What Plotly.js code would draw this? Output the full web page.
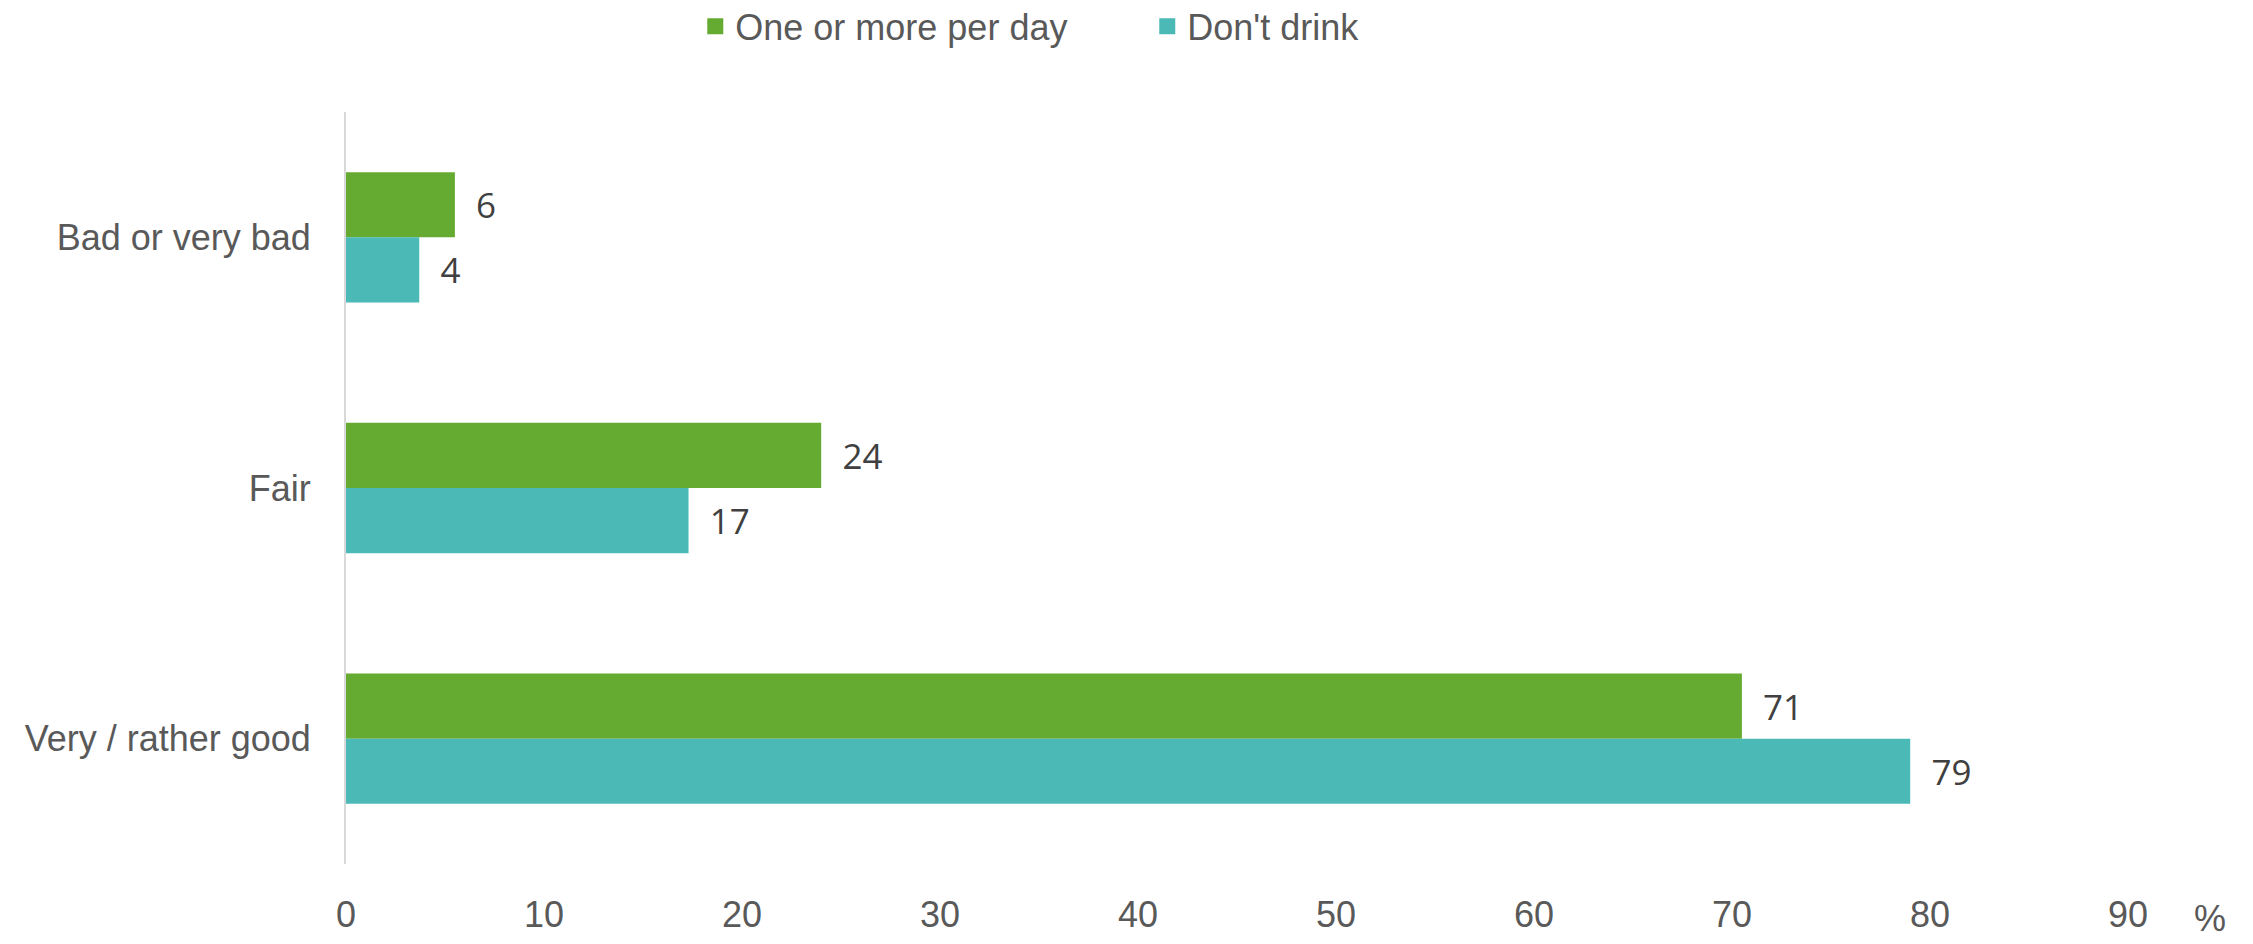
<!DOCTYPE html>
<html>
<head>
<meta charset="utf-8">
<script src="https://cdn.plot.ly/plotly-3.0.1.min.js"></script>
<style>html,body{margin:0;padding:0;background:#fff;}#chart{width:2253px;height:944px;}</style>
</head>
<body>
<div id="chart"></div>
<script>
const categories = ['Bad or very bad', 'Fair', 'Very / rather good'];
const seriesNames = ['One or more per day', "Don't drink"];
const seriesColors = ['#65AB31', '#4BBAB6'];
const dailyValues = [5.5, 24.0, 70.5];
const dailyLabels = ['6', '24', '71'];
const noDrinkValues = [3.7, 17.3, 79.0];
const noDrinkLabels = ['4', '17', '79'];
const xTicks = [0, 10, 20, 30, 40, 50, 60, 70, 80, 90];

const labelFont = {family: 'Open Sans, Noto Sans, sans-serif', size: 35, color: '#404040'};
const mainFont = '"Liberation Sans", Arial, sans-serif';

const barTraces = [
  {values: dailyValues, labels: dailyLabels},
  {values: noDrinkValues, labels: noDrinkLabels}
].map((s, i) => ({
  type: 'bar', orientation: 'h', name: seriesNames[i], showlegend: false,
  y: categories, x: s.values, text: s.labels,
  texttemplate: '  %{text}', textposition: 'outside', cliponaxis: false,
  textfont: labelFont, marker: {color: seriesColors[i]}, hoverinfo: 'x+y'
}));

const legendTraces = seriesNames.map((n, i) => ({
  type: 'scatter', mode: 'markers', name: n, x: [null], y: [null],
  marker: {symbol: 'square', size: 16, color: seriesColors[i]}, showlegend: true, hoverinfo: 'skip'
}));

const layout = {
  width: 2253, height: 944,
  margin: {l: 346, r: 125, t: 112, b: 80, autoexpand: false},
  paper_bgcolor: '#fff', plot_bgcolor: '#fff',
  barmode: 'group', bargap: 0.48, bargroupgap: 0,
  font: {family: mainFont, color: '#595959', size: 36},
  showlegend: true,
  legend: {
    orientation: 'h', x: 0.196, xanchor: 'left', y: 1.114, yanchor: 'middle',
    font: {family: mainFont, size: 36, color: '#595959'}, itemwidth: 30,
    entrywidth: 407, entrywidthmode: 'pixels', traceorder: 'normal'
  },
  xaxis: {
    range: [0, 90], tickvals: xTicks, ticktext: xTicks.map(String),
    showgrid: false, zeroline: false, showline: false, ticks: '',
    tickfont: {family: mainFont, size: 36, color: '#595959'}, ticklabelstandoff: 26, fixedrange: true
  },
  yaxis: {
    type: 'category', autorange: 'reversed',
    showgrid: false, zeroline: false, showline: true, linecolor: '#D9D9D9', linewidth: 2,
    ticks: '', tickfont: {family: mainFont, size: 36, color: '#595959'}, ticklabelstandoff: 26, fixedrange: true
  },
  annotations: [
    {text: '%', xref: 'paper', yref: 'paper', x: 1.046, y: -0.102, xanchor: 'center', yanchor: 'bottom',
     showarrow: false, font: {family: mainFont, size: 36, color: '#595959'}}
  ]
};

Plotly.newPlot('chart', barTraces.concat(legendTraces), layout, {displayModeBar: false, staticPlot: true});
</script>
</body>
</html>
